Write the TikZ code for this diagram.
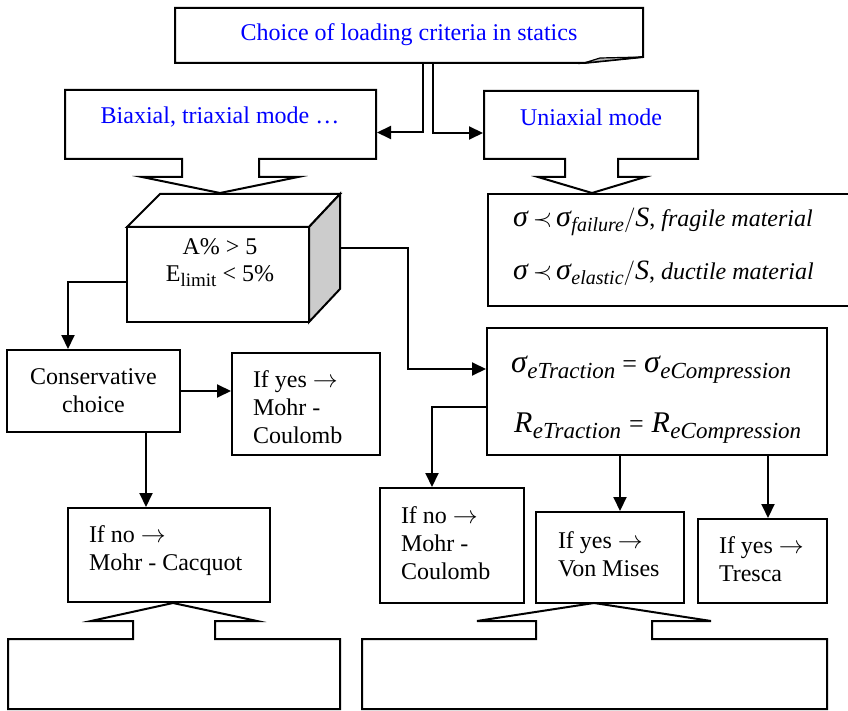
\documentclass[tikz,border=0pt]{standalone}
\usepackage{fontspec}
\setmainfont{Liberation Serif}
\usetikzlibrary{arrows.meta}
% italic sigma in a given size
\newcommand\mysig[1]{{\fontsize{#1}{#1}\selectfont\itshape σ}}
% lowered italic index: size, drop, text
\newcommand\lowidx[3]{\raisebox{-#2pt}{\fontsize{#1}{#1}\selectfont\itshape\kern0.5pt #3}}
\newcommand\rarr{$\rightarrow$}
\newcommand\precsign{{\fontsize{26}{26}\selectfont$\prec$}}
\begin{document}
\begin{tikzpicture}[x=1pt,y=-1pt,
  line width=2pt, line join=miter,
  every node/.style={font=\fontsize{24}{28}\selectfont},
  outline/.style={draw=black, line width=2pt, fill=white},
  panel/.style={draw=black, line width=2pt, fill=white, inner sep=0pt},
  label/.style={inner sep=0pt, align=left, anchor=west},
  title/.style={inner sep=0pt, text=blue},
  arr/.style={-{Triangle[length=14pt,width=13pt]}, line width=2pt}]
\useasboundingbox (0,0) rectangle (848,711);
\clip (0,0) rectangle (848,711);

% ---- top note with folded corner
\draw[outline] (175,8) -- (643,8) -- (643,57) -- (584,63) -- (175,63) -- cycle;
\filldraw[fill=gray!55, line width=1.2pt] (584,63) -- (600,58) -- (643,57) -- cycle;
\node[inner sep=0pt, minimum width=468pt, minimum height=55pt] (top) at (409,35.5) {};
\node[title] (toptxt) at (409,35) {Choice of loading criteria in statics};

% ---- mode callouts
\draw[outline] (65,90) -- (376,90) -- (376,159) -- (259,159) -- (259,177) -- (298,177)
  -- (220,193) -- (142,177) -- (182,177) -- (182,159) -- (65,159) -- cycle;
\node[inner sep=0pt, minimum width=311pt, minimum height=69pt] (biax) at (220.5,124.5) {};
\node[title] (biaxtxt) at (220,117) {Biaxial, triaxial mode …};

\draw[outline] (484,91) -- (698,91) -- (698,159) -- (618,159) -- (618,177) -- (645,177)
  -- (592,193) -- (538,177) -- (565,177) -- (565,159) -- (484,159) -- cycle;
\node[inner sep=0pt, minimum width=214pt, minimum height=68pt] (uni) at (591,125) {};
\node[title] (unitxt) at (591,117) {Uniaxial mode};

\draw[arr] ([xshift=14pt]top.south) |- ([yshift=-8pt]biax.east);
\draw[arr] ([xshift=24pt]top.south) |- ([yshift=-8pt]uni.west);

% ---- uniaxial criteria
\draw[outline] (488,194) rectangle (856,306);
\node[label] (crit1) at (512,222)
  {\mysig{30}\kern5pt\precsign\kern4pt\mysig{30}\lowidx{20}{5}{failure}%
   {\fontsize{25}{25}\selectfont$\big/$}{\fontsize{28}{28}\selectfont\itshape S}, \textit{fragile material}};
\node[label] (crit2) at (512,273)
  {\mysig{30}\kern5pt\precsign\kern4pt\mysig{30}\lowidx{20}{5}{elastic}%
   {\fontsize{25}{25}\selectfont$\big/$}{\fontsize{28}{28}\selectfont\itshape S}, \textit{ductile material}};

% ---- block (cuboid)
\filldraw[fill=white] (127,227) -- (160,194) -- (340,194) -- (309,227) -- cycle;
\filldraw[fill=gray!40] (309,227) -- (340,194) -- (340,289) -- (309,322) -- cycle;
\node[panel, minimum width=182pt, minimum height=95pt] (cube) at (218,274.5) {};
\node[inner sep=0pt] (cubetxt1) at (220,247) {A\% > 5};
\node[inner sep=0pt] (cubetxt2) at (220,276) {E\raisebox{-5pt}{\fontsize{19}{19}\selectfont limit} < 5\%};
\coordinate (cuberight) at (340,248);

% ---- left branch
\node[panel, minimum width=173pt, minimum height=82pt, align=center] (cons) at (93.5,391)
  {Conservative\\choice};
\node[panel, minimum width=148pt, minimum height=102pt] (yes1) at (306,404) {};
\node[label] (yes1txt) at (252,407) {If yes \rarr\\Mohr -\\Coulomb};
\node[panel, minimum width=202pt, minimum height=94pt] (no1) at (169,555) {};
\node[label] (no1txt) at (88,551) {If no \rarr\\Mohr - Cacquot};

\draw[arr] ([yshift=-7.5pt]cube.west) -| ([xshift=-25.5pt]cons.north);
\draw[arr] (cons.east) -- (cons.east -| yes1.west);
\draw[arr] ([xshift=52.5pt]cons.south) -- ([xshift=52.5pt]cons.south |- no1.north);

\draw[outline] (8,639) -- (133,639) -- (133,621) -- (91,621) -- (173,603) -- (257,621)
  -- (215,621) -- (215,639) -- (340,639) -- (340,709) -- (8,709) -- cycle;

% ---- right branch
\node[panel, minimum width=340pt, minimum height=127pt] (sig) at (657,391.5) {};
\node[label] (sigtxt1) at (510,370)
  {\mysig{32}\lowidx{23}{6}{eTraction}\kern7pt{\fontsize{26}{26}\selectfont=}\kern7pt\mysig{32}\lowidx{23}{6}{eCompression}};
\node[label] (sigtxt2) at (513,428)
  {{\fontsize{30}{30}\selectfont\itshape R}\lowidx{23}{6}{eTraction}\kern8pt{\fontsize{26}{26}\selectfont=}\kern8pt{\fontsize{30}{30}\selectfont\itshape R}\lowidx{23}{6}{eCompression}};

\draw[arr] (cuberight) -| (408,369) -- ([yshift=22.5pt]sig.west);

\node[panel, minimum width=144pt, minimum height=115pt] (no2) at (452,545.5) {};
\node[label] (no2txt) at (400,543) {If no \rarr\\Mohr -\\Coulomb};
\node[panel, minimum width=148pt, minimum height=91pt] (vm) at (610,557.5) {};
\node[label] (vmtxt) at (557,554) {If yes \rarr\\Von Mises};
\node[panel, minimum width=129pt, minimum height=84pt] (tr) at (762.5,561) {};
\node[label] (trtxt) at (718,559) {If yes \rarr\\Tresca};

\draw[arr] ([yshift=-15.5pt]sig.west) -| ([xshift=-20pt]no2.north);
\draw[arr] ([xshift=10pt]vm.north |- sig.south) -- ([xshift=10pt]vm.north);
\draw[arr] ([xshift=5.5pt]tr.north |- sig.south) -- ([xshift=5.5pt]tr.north);

\draw[outline] (362,639) -- (536,639) -- (536,621) -- (477,621) -- (594,603) -- (711,621)
  -- (652,621) -- (652,639) -- (827,639) -- (827,709) -- (362,709) -- cycle;
\end{tikzpicture}
\end{document}
